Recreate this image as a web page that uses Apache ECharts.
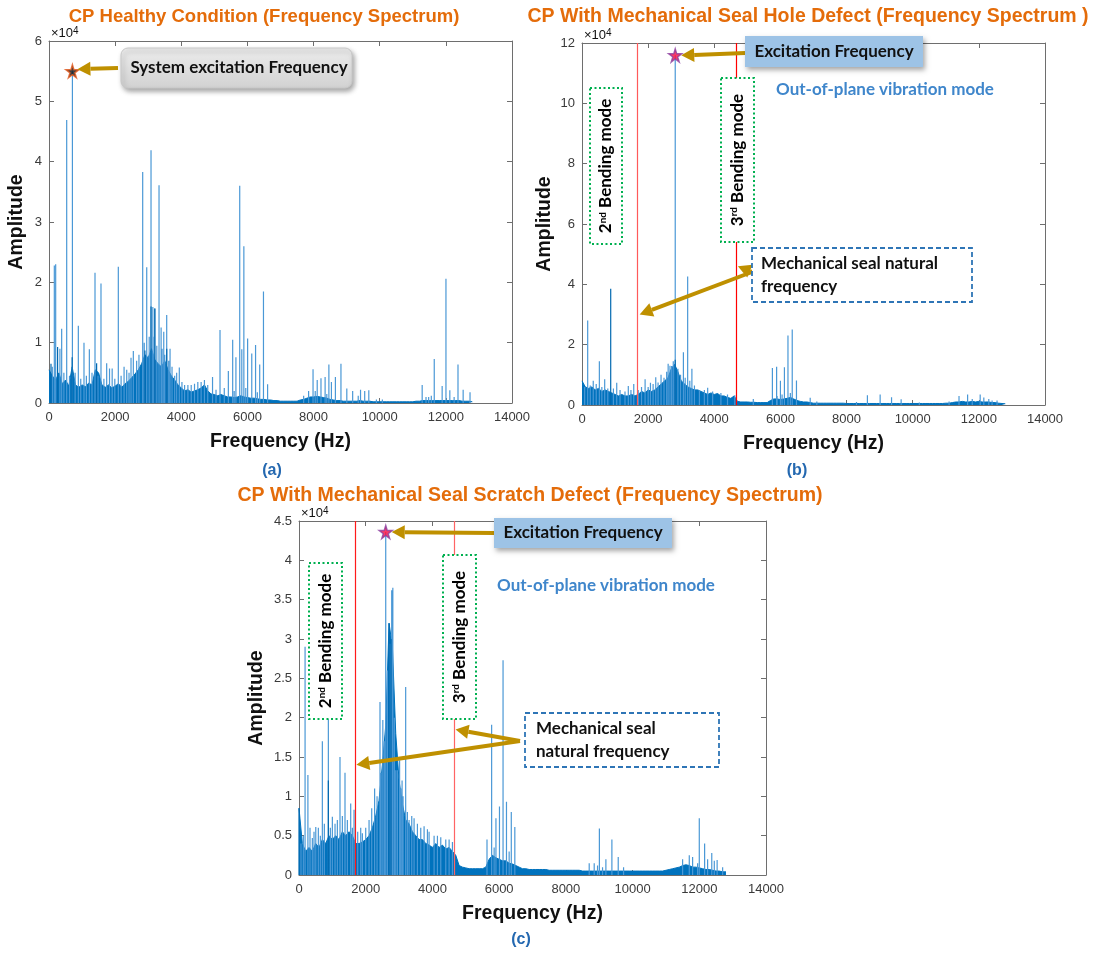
<!DOCTYPE html>
<html><head><meta charset="utf-8">
<script src="https://cdn.jsdelivr.net/npm/echarts@6/dist/echarts.min.js"></script>
<style>html,body{margin:0;padding:0;background:#fff}#c{width:1096px;height:954px}</style>
</head><body><div id="c"></div>
<script>
// ===== DATA (amplitudes in units of 1e4) =====
const FLOOR_STEP = 100; // Hz between floor samples, 0..12800 Hz
const xTickMax = 14000, xTickStep = 2000;
const yMaxA = 6, yStepA = 1;
const yMaxB = 12, yStepB = 2;
const yMaxC = 4.5, yStepC = 0.5;

// (a) healthy: dense noise floor envelope
const floorA = [0.55,0.45,0.38,0.5,0.32,0.38,0.28,0.6,0.3,0.26,
 0.3,0.27,0.33,0.3,0.55,0.5,0.3,0.26,0.3,0.25,
 0.28,0.32,0.26,0.32,0.36,0.42,0.48,0.55,0.65,0.8,
 0.75,0.9,0.72,0.65,0.6,0.7,0.55,0.45,0.38,0.3,
 0.25,0.2,0.22,0.18,0.2,0.22,0.25,0.3,0.2,0.15,
 0.14,0.12,0.14,0.12,0.1,0.1,0.09,0.1,0.12,0.1,
 0.09,0.08,0.08,0.07,0.06,0.06,0.05,0.05,0.04,0.04,
 0.03,0.03,0.03,0.03,0.03,0.03,0.05,0.06,0.08,0.1,
 0.1,0.11,0.1,0.09,0.08,0.06,0.05,0.04,0.04,0.03,
 0.03,0.03,0.03,0.03,0.04,0.03,0.03,0.03,0.02,0.02,
 0.02,0.02,0.02,0.02,0.02,0.02,0.02,0.02,0.02,0.02,
 0.02,0.03,0.03,0.04,0.04,0.04,0.04,0.04,0.04,0.04,
 0.04,0.04,0.04,0.04,0.04,0.03,0.03,0.03,0.02];
// (a) isolated spectral lines [Hz, amplitude]
const spikesA = [[161,2.28],[202,2.3],[383,1.23],[535,4.69],[708,5.5],[887,1.28],[1058,1.0],[1220,0.89],[1391,2.16],[1572,1.98],
 [1744,0.66],[1830,0.57],[1910,0.57],[2096,2.26],[2270,0.6],[2480,0.75],[2550,0.86],[2833,3.83],[2955,2.25],[3085,4.19],
 [3140,1.59],[3200,1.56],[3327,3.61],[3390,1.25],[3470,1.18],[3559,1.46],[3660,0.9],[3940,0.59],[4100,0.3],[4300,0.3],
 [4500,0.35],[4700,0.38],[4945,0.43],[5171,1.21],[5300,0.25],[5423,0.53],[5554,1.05],[5652,0.76],[5767,3.6],[5830,0.89],
 [5892,2.6],[6006,1.07],[6131,0.82],[6246,0.96],[6371,0.64],[6485,1.85],[6610,0.31],[7850,0.2],[7984,0.56],[8050,0.2],
 [8110,0.38],[8224,0.41],[8349,0.43],[8463,0.64],[8540,0.35],[8660,0.43],[8828,0.65],[9005,0.24],[9182,0.2],[9350,0.12],
 [9420,0.22],[9546,0.2],[9670,0.21],[9900,0.06],[10080,0.06],[11284,0.3],[11400,0.1],[11480,0.1],[11649,0.73],[11888,0.28],
 [12003,2.06],[12120,0.21],[12367,0.64],[12523,0.22],[12731,0.18]];
// (a) smaller lines inside the dense band
const fineA = [[100,0.6],[330,0.9],[450,0.5],[620,0.45],[790,0.5],[960,0.4],[1130,0.45],[1300,0.5],[1480,0.45],[1660,0.4],
 [1990,0.4],[2180,0.45],[2350,0.55],[2420,0.5],[2650,0.7],[2720,0.8],[2880,1.0],[3030,1.1],[3150,1.1],[3260,0.95],
 [3420,0.9],[3500,0.8],[3620,0.7],[3720,0.6],[3800,0.45],[3860,0.5],[4020,0.35],[4200,0.3],[4400,0.32],[4600,0.35],
 [4800,0.3],[5050,0.22],[5600,0.2],[5950,0.25],[6300,0.18],[7700,0.12],[8400,0.15],[11560,0.12],[12250,0.1]];
const darkA = [[60,0.65],[260,0.93],[700,0.76],[1440,0.66],[3085,1.6],[3200,1.57],[3560,0.9],[2900,0.87]];
const peakA = [708, 5.5];

// (b) seal hole defect
const floorB = [0.8,0.6,0.55,0.6,0.5,0.55,0.45,0.5,0.45,0.4,
 0.35,0.3,0.35,0.3,0.3,0.35,0.3,0.35,0.45,0.4,
 0.5,0.45,0.5,0.6,0.7,0.8,0.9,1.2,1.35,1.1,
 0.8,0.7,0.6,0.55,0.5,0.5,0.45,0.4,0.35,0.4,
 0.35,0.38,0.3,0.3,0.25,0.22,0.3,0.12,0.1,0.1,
 0.1,0.09,0.09,0.08,0.08,0.08,0.08,0.15,0.2,0.2,
 0.18,0.2,0.22,0.25,0.2,0.15,0.12,0.1,0.1,0.08,
 0.06,0.06,0.06,0.06,0.06,0.06,0.06,0.06,0.06,0.06,
 0.05,0.05,0.05,0.05,0.05,0.05,0.05,0.05,0.05,0.05,
 0.05,0.05,0.05,0.05,0.05,0.05,0.05,0.05,0.05,0.05,
 0.05,0.05,0.05,0.05,0.05,0.05,0.05,0.05,0.05,0.05,
 0.06,0.06,0.08,0.1,0.1,0.12,0.1,0.1,0.12,0.1,
 0.12,0.1,0.1,0.1,0.08,0.08,0.06,0.05,0.04];
const spikesB = [[172,2.8],[340,0.8],[525,1.45],[686,0.85],[1050,0.74],[1400,0.63],[1565,0.7],[1908,0.85],[2070,0.74],[2230,0.92],
 [2390,1.0],[2605,1.37],[2710,1.29],[2819,11.59],[3066,1.75],[3195,4.26],[3323,1.2],[3550,0.5],[3800,0.57],[4620,0.32],
 [5180,0.2],[5757,1.23],[5885,1.27],[6000,0.8],[6121,1.25],[6228,2.3],[6357,2.5],[6485,0.81],[6900,0.24],[8630,0.32],
 [9015,0.35],[9360,0.26],[9650,0.19],[11400,0.3],[11660,0.35],[11800,0.2],[12040,0.35],[12150,0.25],[12300,0.2],[12550,0.15]];
const fineB = [[80,0.6],[250,0.65],[430,0.7],[600,0.6],[780,0.55],[950,0.55],[1150,0.5],[1300,0.45],[1480,0.5],[1700,0.5],
 [1800,0.6],[2000,0.6],[2150,0.7],[2300,0.75],[2480,0.9],[2560,1.1],[2660,1.3],[2760,1.45],[2900,1.2],[2980,1.0],
 [3120,0.9],[3260,0.8],[3400,0.65],[3700,0.5],[3950,0.45],[4200,0.4],[4400,0.35],[5900,0.3],[6050,0.35],[6300,0.4],
 [7100,0.12],[8300,0.1],[10200,0.08],[11100,0.12],[12400,0.15]];
const darkB = [[868,3.85],[2819,1.5]];
const peakB = [2819, 11.59];
const modeLinesB = [1683, 4652];

// (c) seal scratch defect
const floorC = [0.85,0.4,0.3,0.35,0.3,0.4,0.35,0.45,0.4,0.5,
 0.45,0.5,0.45,0.55,0.5,0.55,0.5,0.4,0.4,0.42,
 0.45,0.5,0.6,0.75,0.95,1.4,1.9,3.2,2.9,1.8,
 1.2,0.9,0.7,0.65,0.55,0.5,0.45,0.45,0.4,0.38,
 0.35,0.4,0.35,0.38,0.33,0.35,0.3,0.25,0.12,0.1,
 0.09,0.08,0.08,0.08,0.08,0.08,0.1,0.2,0.25,0.22,
 0.2,0.18,0.18,0.15,0.14,0.12,0.1,0.08,0.08,0.07,
 0.07,0.07,0.07,0.07,0.07,0.06,0.06,0.06,0.06,0.06,
 0.06,0.06,0.06,0.06,0.06,0.05,0.05,0.05,0.05,0.05,
 0.05,0.05,0.05,0.05,0.05,0.05,0.05,0.05,0.05,0.05,
 0.05,0.05,0.05,0.05,0.05,0.05,0.05,0.05,0.05,0.05,
 0.06,0.07,0.08,0.09,0.1,0.12,0.13,0.12,0.1,0.1,
 0.09,0.08,0.07,0.07,0.06,0.05,0.05,0.04,0.04];
const spikesC = [[182,2.9],[267,1.27],[400,0.47],[503,0.61],[700,1.7],[880,1.98],[1000,0.74],[1229,1.5],[1379,1.3],[1550,0.91],
 [1650,0.83],[1900,0.53],[2267,1.1],[2428,2.2],[2513,1.97],[2600,4.36],[2727,2.94],[2779,3.62],[2813,3.65],[2900,1.33],
 [2950,1.33],[3016,1.46],[3090,1.2],[3198,2.39],[3300,0.7],[3450,0.72],[3650,0.6],[3900,0.55],[4150,0.5],[4400,0.45],
 [5636,0.45],[5775,1.91],[5904,0.72],[6010,0.87],[6117,2.73],[6220,0.93],[6364,0.8],[6470,0.61],[8700,0.15],[8850,0.15],
 [9005,0.59],[9200,0.2],[9380,0.45],[9570,0.23],[9730,0.1],[11800,0.23],[11950,0.15],[12000,0.72],[12160,0.4],[12374,0.28],
 [12535,0.19],[12700,0.1]];
const fineC = [[60,0.4],[130,0.5],[330,0.6],[450,0.55],[580,0.6],[640,0.5],[760,0.65],[940,0.6],[1080,0.65],[1150,0.7],
 [1300,0.75],[1450,0.7],[1600,0.6],[1760,0.55],[1850,0.6],[2000,0.6],[2100,0.7],[2180,0.85],[2340,1.0],[2460,1.3],
 [2560,1.7],[2650,2.6],[2860,2.0],[3050,1.1],[3120,1.0],[3250,0.8],[3380,0.75],[3550,0.65],[3750,0.62],[3850,0.58],
 [4050,0.5],[4250,0.48],[4500,0.45],[4600,0.42],[5850,0.35],[6300,0.3],[8950,0.12],[9100,0.1],[11500,0.2],[11700,0.25],
 [12250,0.2],[12450,0.18]];
const darkC = [[0,0.85],[880,1.2],[2700,3.2],[2760,3.0]];
const peakC = [2600, 4.36];
const modeLinesC = [1690, 4663];

// ===== CHART =====
const chart = echarts.init(document.getElementById('c'));
const AXC = '#6e6e6e', LBL = '#3a3a3a';
const FONT = 'Liberation Sans, Arial, sans-serif';
const ANN = 'Lato, "Open Sans", sans-serif';
const GOLD = '#BF9000';

const grids = [
  {left:49, top:41, width:463, height:362},
  {left:582, top:43, width:463, height:362},
  {left:299, top:521, width:467, height:354}
];
const yCfg = [[yMaxA,yStepA,22],[yMaxB,yStepB,27],[yMaxC,yStepC,32]];
const plain = v => String(v);

const xAxes = [], yAxes = [];
grids.forEach((g,k)=>{
  xAxes.push({type:'value', gridIndex:k, min:0, max:xTickMax, interval:xTickStep, position:'bottom',
    axisLine:{onZero:false, lineStyle:{color:AXC}}, axisTick:{inside:true,length:5,lineStyle:{color:AXC}},
    axisLabel:{color:LBL, fontSize:13, fontFamily:FONT, margin:8, formatter:plain},
    splitLine:{show:false}, name:'Frequency (Hz)', nameLocation:'middle', nameGap:29,
    nameTextStyle:{fontSize:19.5, fontWeight:'bold', color:'#111', fontFamily:FONT}});
  xAxes.push({type:'value', gridIndex:k, min:0, max:xTickMax, interval:xTickStep, position:'top',
    axisLine:{onZero:false, lineStyle:{color:AXC}}, axisTick:{inside:true,length:5,lineStyle:{color:AXC}},
    axisLabel:{show:false}, splitLine:{show:false}});
  const [ym, ys, ng] = yCfg[k];
  yAxes.push({type:'value', gridIndex:k, min:0, max:ym, interval:ys, position:'left',
    axisLine:{show:true,onZero:false,lineStyle:{color:AXC}}, axisTick:{show:true,inside:true,length:5,lineStyle:{color:AXC}},
    axisLabel:{color:LBL, fontSize:13, fontFamily:FONT, margin:7, formatter:plain},
    splitLine:{show:false}, name:'Amplitude', nameLocation:'middle', nameGap:ng, nameRotate:90,
    nameTextStyle:{fontSize:19.5, fontWeight:'bold', color:'#111', fontFamily:FONT}});
  yAxes.push({type:'value', gridIndex:k, min:0, max:ym, interval:ys, position:'right',
    axisLine:{show:true,onZero:false,lineStyle:{color:AXC}}, axisTick:{show:true,inside:true,length:5,lineStyle:{color:AXC}},
    axisLabel:{show:false}, splitLine:{show:false}});
});

function floorData(arr){ return arr.map((v,i)=>[i*FLOOR_STEP, v]); }
function spikeData(pairs){ const d=[]; pairs.forEach(([f,a])=>{ d.push([f,0],[f,a],[f,'-']); }); return d; }
const STAR = 'path://M50,0 L61,35 L98,35 L68,57 L79,91 L50,70 L21,91 L32,57 L2,35 L39,35 Z';

const sets = [
  {floor:floorA, spikes:spikesA.concat(fineA), dark:darkA, peak:peakA, lines:[], starFill:'#111', starStroke:'#E2571B'},
  {floor:floorB, spikes:spikesB.concat(fineB), dark:darkB, peak:peakB, lines:[[modeLinesB[0],'#ff5a5a'],[modeLinesB[1],'#ff0000']], starFill:'#ff0a3c', starStroke:'#8a3fa0'},
  {floor:floorC, spikes:spikesC.concat(fineC), dark:darkC, peak:peakC, lines:[[modeLinesC[0],'#ff1a1a'],[modeLinesC[1],'#ff6464']], starFill:'#ff0a3c', starStroke:'#8a3fa0'}
];
const series = [];
sets.forEach((s,k)=>{
  const ax = {xAxisIndex:2*k, yAxisIndex:2*k};
  series.push(Object.assign({type:'line', data:floorData(s.floor), showSymbol:false, symbol:'none',
    lineStyle:{color:'#0072BD', width:1}, areaStyle:{color:'#0072BD', opacity:1}, z:2, silent:true,
    markLine: s.lines.length ? {silent:true, symbol:['none','none'], label:{show:false}, animation:false,
      data: s.lines.map(([f,c])=>({xAxis:f, lineStyle:{color:c, width:1.2, type:'solid'}}))} : undefined}, ax));
  series.push(Object.assign({type:'line', data:spikeData(s.spikes), showSymbol:false, symbol:'none', connectNulls:false,
    lineStyle:{color:'#4a98d6', width:1.2}, z:3, silent:true}, ax));
  series.push(Object.assign({type:'line', data:spikeData(s.dark), showSymbol:false, symbol:'none', connectNulls:false,
    lineStyle:{color:'#0068b0', width:1.2}, z:4, silent:true}, ax));
  series.push(Object.assign({type:'scatter', data:[s.peak], symbol:STAR, symbolSize:13,
    itemStyle:{color:s.starFill, borderColor:s.starStroke, borderWidth:1.5}, z:6, silent:true}, ax));
});

chart.setOption({
  animation:false, backgroundColor:'#fff',
  grid: grids.map(g=>Object.assign({show:false, containLabel:false}, g)),
  xAxis: xAxes, yAxis: yAxes, series: series
});

// ===== ANNOTATIONS =====
function arrow(x1,y1,x2,y2){
  const a=Math.atan2(y2-y1,x2-x1), L=13, W=7, c=Math.cos(a), s=Math.sin(a);
  const bx=x2-L*c, by=y2-L*s;
  return [
    {type:'line', shape:{x1:x1,y1:y1,x2:bx,y2:by}, style:{stroke:GOLD, lineWidth:4}, z:100},
    {type:'polygon', shape:{points:[[x2,y2],[bx-W*s,by+W*c],[bx+W*s,by-W*c]]}, style:{fill:GOLD}, z:100}
  ];
}
const AF = 'bold 17px '+ANN;
function txt(x,y,text,opt){
  opt = opt||{};
  return {type:'text', x:x, y:y, rotation:opt.rot||0, z:opt.z||110,
    style:{text:text, font:opt.font||AF, fill:opt.fill||'#111',
      align:opt.align||'center', verticalAlign:opt.va||'middle',
      textAlign:opt.align||'center', textVerticalAlign:opt.va||'middle', rich:opt.rich, lineHeight:opt.lh}};
}
function shadowBox(x,y,w,h,fill,stroke,r){
  return {type:'rect', shape:{x:x,y:y,width:w,height:h,r:r||0}, z:105,
    style:{fill:fill, stroke:stroke||null, lineWidth:1, shadowBlur:5, shadowOffsetX:2, shadowOffsetY:3, shadowColor:'rgba(0,0,0,0.35)'}};
}
function greenBox(x,y,w,h,num,sup){
  const rich = {b:{fontWeight:'bold', fontSize:17, fontFamily:ANN, color:'#111'},
    s:{fontSize:10, fontWeight:'bold', fontFamily:ANN, color:'#111', verticalAlign:'top', lineHeight:17}};
  return [
    {type:'rect', shape:{x:x,y:y,width:w,height:h}, z:105, style:{fill:'#fff', stroke:'#00B050', lineWidth:2, lineDash:[2,2.5]}},
    {type:'text', x:x+w/2, y:y+h/2, rotation:Math.PI/2, z:110,
      style:{text:'{b|'+num+'}{s|'+sup+'}{b| Bending mode}', rich:rich, align:'center', verticalAlign:'middle'}}
  ];
}
function blueBox(x,y,w,h){
  return {type:'rect', shape:{x:x,y:y,width:w,height:h}, z:105, style:{fill:'#fff', stroke:'#2E75B6', lineWidth:1.8, lineDash:[5,3]}};
}
function px(k,pt){ return chart.convertToPixel({xAxisIndex:2*k, yAxisIndex:2*k}, pt); }

const pA = px(0,peakA), pB = px(1,peakB), pC = px(2,peakC);
const lB2 = px(1,[modeLinesB[0],3.0]), lB3 = px(1,[modeLinesB[1],4.6]);
const lC2 = px(2,[modeLinesC[0],1.4]), lC3 = px(2,[modeLinesC[1],1.85]);
const TC = '#E46C0A', LC = '#2468B0';
const sup4 = {s:{fontSize:10, fontFamily:FONT, color:LBL, verticalAlign:'top', lineHeight:14}, n:{fontSize:13, fontFamily:FONT, color:LBL}};

const G = [].concat(
  txt(264,17,'CP Healthy Condition (Frequency Spectrum)',{font:'bold 18.5px '+FONT, fill:TC}),
  txt(808,17,'CP With Mechanical Seal Hole Defect (Frequency Spectrum )',{font:'bold 19.5px '+FONT, fill:TC}),
  txt(530,496,'CP With Mechanical Seal Scratch Defect (Frequency Spectrum)',{font:'bold 19.5px '+FONT, fill:TC}),
  txt(272,471,'(a)',{font:'bold 16px '+FONT, fill:LC}),
  txt(797,471,'(b)',{font:'bold 16px '+FONT, fill:LC}),
  txt(521,940,'(c)',{font:'bold 16px '+FONT, fill:LC}),
  txt(51,33,'{n|×10}{s|4}',{align:'left', rich:sup4}),
  txt(584,35,'{n|×10}{s|4}',{align:'left', rich:sup4}),
  txt(301,513,'{n|×10}{s|4}',{align:'left', rich:sup4}),
  shadowBox(121,48,231,40,new echarts.graphic.LinearGradient(0,0,0,1,[{offset:0,color:'#ececec'},{offset:1,color:'#d2d2d2'}]),'#c8c8c8',7),
  txt(239,68,'System excitation Frequency'),
  arrow(118,68,pA[0]+5,pA[1]-2),
  shadowBox(745,36,178,31,'#9DC3E6',null,0),
  txt(834,52,'Excitation Frequency'),
  arrow(745,53,pB[0]+6,pB[1]),
  txt(885,90,'Out-of-plane vibration mode',{fill:'#3F86CB'}),
  greenBox(590,88,32,156,'2','nd'),
  greenBox(721,78,33,164,'3','rd'),
  blueBox(752,248,220,54),
  txt(761,264,'Mechanical seal natural',{align:'left'}),
  txt(761,287,'frequency',{align:'left'}),
  arrow(752,272,lB2[0]+2,lB2[1]),
  arrow(752,272,lB3[0]+2,lB3[1]),
  shadowBox(494,518,178,30,'#9DC3E6',null,0),
  txt(583,533,'Excitation Frequency'),
  arrow(494,533,pC[0]+6,pC[1]),
  txt(606,586,'Out-of-plane vibration mode',{fill:'#3F86CB'}),
  greenBox(309,563,33,156,'2','nd'),
  greenBox(443,555,33,164,'3','rd'),
  blueBox(525,713,194,54),
  txt(536,729,'Mechanical seal',{align:'left'}),
  txt(536,752,'natural frequency',{align:'left'}),
  arrow(520,741,lC2[0]+1,lC2[1]),
  arrow(520,741,lC3[0]+1,lC3[1])
);
chart.setOption({graphic:{elements:G}});
</script>
</body></html>
